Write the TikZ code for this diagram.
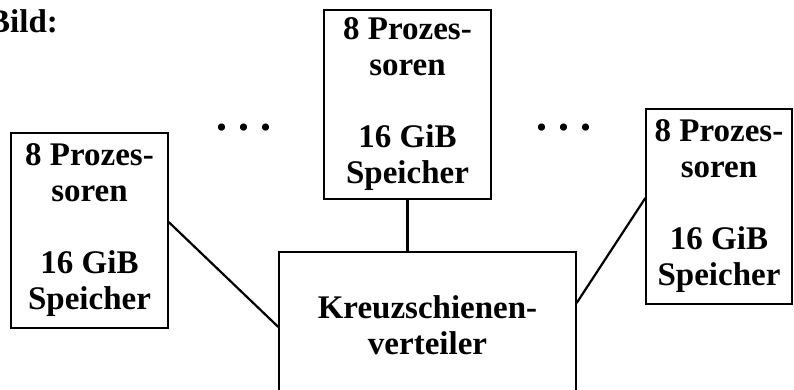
\documentclass[tikz,border=0pt]{standalone}
\usepackage{fontspec}
\setmainfont{Liberation Serif}
\begin{document}
\begin{tikzpicture}[x=1pt,y=-1pt,
  every node/.style={font=\fontsize{33}{36}\selectfont\bfseries, text=black},
  unit/.style={draw=black, line width=1.3pt, align=center, inner sep=0pt,
    minimum height=195pt},
  ellip/.style={anchor=base, inner sep=0pt, font=\fontsize{44}{44}\selectfont\bfseries},
  link/.style={draw=black, line width=2.2pt}]
\useasboundingbox (0,0) rectangle (794,390);
\clip (0,0) rectangle (794,390);

% caption
\node[anchor=base west, inner sep=0pt] (title) at (-12,33) {Bild:};

% processor/memory units
\node[unit, minimum width=157pt] (lbox) at (89.5,230.5)
  {8 Prozes-\\soren\\[36pt]16 GiB\\Speicher};
\node[unit, minimum width=167pt, minimum height=189pt] (mbox) at (407.5,104.5)
  {8 Prozes-\\soren\\[36pt]16 GiB\\Speicher};
\node[unit, minimum width=146pt] (rbox) at (719,206.5)
  {8 Prozes-\\soren\\[36pt]16 GiB\\Speicher};

% crossbar switch
\node[unit, minimum width=297pt, minimum height=146pt] (xbar) at (427.5,325)
  {Kreuzschienen-\\verteiler};

% ellipses between the units
\node[ellip] (dotsl) at (243.5,131)
  {.\hspace{11pt}.\hspace{11pt}.};
\node[ellip] (dotsr) at (564,131)
  {.\hspace{11pt}.\hspace{11pt}.};

% connections to the crossbar
\draw[link] ([yshift=8.5pt]lbox.east) -- ([yshift=-2pt]xbar.west);
\draw[link] (mbox.south) -- (mbox.south |- xbar.north);
\draw[link] ([yshift=22pt]xbar.east) -- ([yshift=8.5pt]rbox.west);
\end{tikzpicture}
\end{document}
